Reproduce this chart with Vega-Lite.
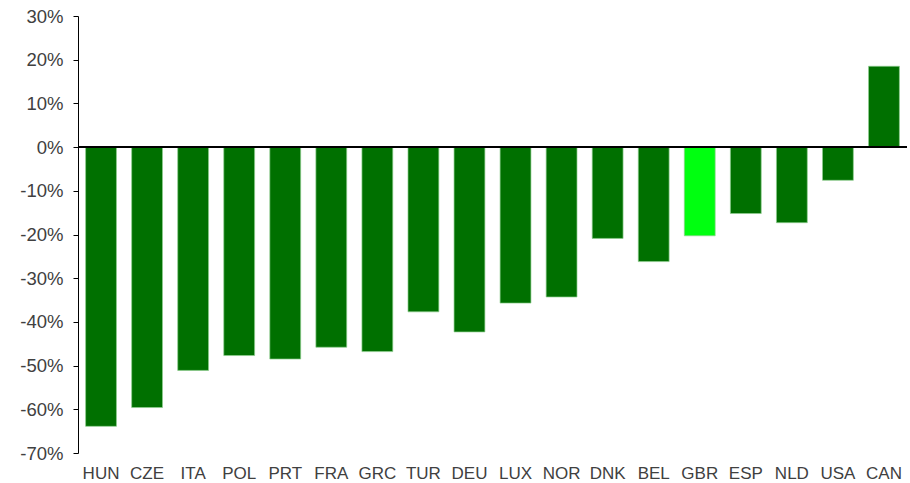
{
  "$schema": "https://vega.github.io/schema/vega-lite/v6.json",
  "width": 829,
  "height": 437,
  "autosize": {"type": "none"},
  "padding": {"left": 78, "top": 16, "right": 3, "bottom": 30},
  "background": "white",
  "config": {
    "view": {"stroke": null},
    "font": "Liberation Sans"
  },
  "data": {
    "values": [
      {"country": "HUN", "change": -63.9},
      {"country": "CZE", "change": -59.6},
      {"country": "ITA", "change": -51.1},
      {"country": "POL", "change": -47.7},
      {"country": "PRT", "change": -48.5},
      {"country": "FRA", "change": -45.8},
      {"country": "GRC", "change": -46.8},
      {"country": "TUR", "change": -37.7},
      {"country": "DEU", "change": -42.3},
      {"country": "LUX", "change": -35.7},
      {"country": "NOR", "change": -34.3},
      {"country": "DNK", "change": -20.9},
      {"country": "BEL", "change": -26.2},
      {"country": "GBR", "change": -20.3},
      {"country": "ESP", "change": -15.2},
      {"country": "NLD", "change": -17.3},
      {"country": "USA", "change": -7.6},
      {"country": "CAN", "change": 18.5}
    ]
  },
  "layer": [
    {
      "mark": {"type": "bar", "stroke": "#8fcf8f", "strokeWidth": 0.7},
      "encoding": {
        "x": {
          "field": "country",
          "type": "nominal",
          "sort": null,
          "scale": {"paddingInner": 0.33, "paddingOuter": 0.165},
          "axis": {
            "title": null,
            "domain": false,
            "ticks": false,
            "labelAngle": 0,
            "labelFontSize": 17,
            "labelColor": "#404040",
            "labelPadding": 12
          }
        },
        "y": {
          "field": "change",
          "type": "quantitative",
          "scale": {"domain": [-70, 30], "nice": false},
          "axis": {
            "title": null,
            "values": [-70, -60, -50, -40, -30, -20, -10, 0, 10, 20, 30],
            "labelExpr": "datum.value + '%'",
            "grid": false,
            "domainColor": "#000000",
            "tickColor": "#000000",
            "tickSize": 5,
            "labelFontSize": 18.5,
            "labelColor": "#404040",
            "labelPadding": 10
          }
        },
        "color": {
          "condition": {"test": "datum.country === 'GBR'", "value": "#00ff10"},
          "value": "#007000"
        }
      }
    },
    {
      "mark": {"type": "rule", "color": "#000000", "strokeWidth": 1.2},
      "encoding": {"y": {"datum": 0}}
    }
  ]
}
